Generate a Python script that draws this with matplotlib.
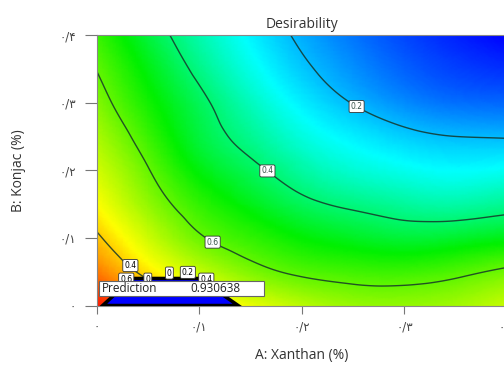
import numpy as np
import matplotlib.pyplot as plt
import matplotlib.tri as mtri
from matplotlib.colors import LinearSegmentedColormap
from matplotlib.patches import Polygon, Rectangle

# grid of the factors (%)
xanthan = np.array([0, 0.05, 0.1, 0.15, 0.2, 0.25, 0.3, 0.35, 0.4])
konjac = np.array([0, 0.05, 0.1, 0.15, 0.2, 0.25, 0.3, 0.35, 0.4])

# desirability: rows = konjac, columns = xanthan
desir = np.array([
    [0.95, 0.88, 0.80, 0.74, 0.69, 0.655, 0.65, 0.665, 0.70],
    [0.87, 0.78, 0.70, 0.63, 0.585, 0.565, 0.56, 0.58, 0.615],
    [0.81, 0.71, 0.61, 0.55, 0.50, 0.47, 0.45, 0.46, 0.48],
    [0.76, 0.65, 0.55, 0.48, 0.42, 0.385, 0.36, 0.35, 0.37],
    [0.715, 0.605, 0.49, 0.42, 0.355, 0.31, 0.285, 0.27, 0.28],
    [0.675, 0.56, 0.445, 0.37, 0.30, 0.255, 0.22, 0.20, 0.195],
    [0.635, 0.52, 0.42, 0.33, 0.255, 0.197, 0.15, 0.12, 0.11],
    [0.598, 0.485, 0.38, 0.29, 0.215, 0.155, 0.105, 0.07, 0.05],
    [0.56, 0.445, 0.345, 0.26, 0.185, 0.125, 0.075, 0.035, 0.0],
])

contour_levels = [0.2, 0.4, 0.6, 0.8]
label_spots = [(0.253, 0.293), (0.165, 0.196), (0.114, 0.096)]

# region where desirability drops to 0
zero_x = [0.006, 0.138, 0.100, 0.035]
zero_y = [0.0, 0.0, 0.040, 0.040]

# crowded contour labels around the zero region
crowd_text = ['0.4', '0.6', '0', '0', '0.2', '0.4']
crowd_x = [0.033, 0.029, 0.050, 0.071, 0.089, 0.107]
crowd_y = [0.059, 0.039, 0.039, 0.048, 0.049, 0.039]

prediction = 0.930638

ticks = [0, 0.1, 0.2, 0.3, 0.4]
tick_labels = ['۰', '۰/۱', '۰/۲', '۰/۳', '۰/۴']

cmap = LinearSegmentedColormap.from_list(
    'de', [(0.0, '#0000ff'), (0.27, '#00ffff'), (0.5, '#00f000'),
           (0.76, '#ffff00'), (0.97, '#ff0000'), (1.0, '#ff0000')])

# smooth the read grid with matplotlib's cubic triangle refiner
gx, gy = np.meshgrid(xanthan, konjac)
tri = mtri.Triangulation(gx.ravel(), gy.ravel())
fine_tri, fine_d = mtri.UniformTriRefiner(tri).refine_field(desir.ravel(), subdiv=4)

fig = plt.figure(figsize=(5.04, 3.65), dpi=100)
ax = fig.add_axes([96.5 / 504, 59.5 / 365, 410.5 / 504, 270.5 / 365])

ax.tripcolor(fine_tri, fine_d, shading='gouraud', cmap=cmap, vmin=0, vmax=1)
cs = ax.tricontour(fine_tri, fine_d, levels=contour_levels,
                   colors='#16352a', linewidths=1.0, alpha=0.85)
labels = ax.clabel(cs, levels=[0.2, 0.4, 0.6], manual=label_spots,
                   inline=False, fontsize=5.5, fmt='%g')
for t in labels:
    t.set_rotation(0)
    t.set_bbox(dict(boxstyle='round,pad=0.2', fc='white', ec='#333333', lw=0.6))

ax.add_patch(Polygon(np.column_stack([zero_x, zero_y]), closed=True,
                     fc='#0000ff', ec='black', lw=2.5, zorder=3))

for s, x, y in zip(crowd_text, crowd_x, crowd_y):
    ax.text(x, y, s, fontsize=5.5, ha='center', va='center', zorder=4,
            bbox=dict(boxstyle='round,pad=0.2', fc='white', ec='#333333', lw=0.6))

ax.add_patch(Rectangle((0.002, 0.0135), 0.161, 0.022, fc='white',
                       ec='#666666', lw=0.8, zorder=5))
ax.text(0.005, 0.0245, 'Prediction', fontsize=8.5, va='center',
        family='Open Sans', color='#222222', zorder=6)
ax.text(0.091, 0.0245, f'{prediction:.6f}', fontsize=8.5, va='center',
        family='Open Sans', color='#222222', zorder=6)

ax.set_xlim(0, 0.4)
ax.set_ylim(0, 0.4)
ax.set_xticks(ticks)
ax.set_xticklabels(tick_labels, family='DejaVu Sans')
ax.set_yticks(ticks)
ax.set_yticklabels(tick_labels, family='DejaVu Sans')
ax.tick_params(axis='x', length=6, pad=5, color='#777777', labelcolor='#444444', labelsize=8.5)
ax.tick_params(axis='y', length=9, pad=6, color='#777777', labelcolor='#444444', labelsize=8.5)
for sp in ax.spines.values():
    sp.set_color('#888888')
    sp.set_linewidth(0.8)

ax.set_title('Desirability', family='Open Sans', fontsize=10, color='#333333', pad=5)
ax.set_xlabel('A: Xanthan (%)', family='Open Sans', fontsize=10, color='#333333', labelpad=10)
ax.set_ylabel('B: Konjac (%)', family='Open Sans', fontsize=10, color='#333333', labelpad=24)

fig.savefig('out.png', dpi=100)
